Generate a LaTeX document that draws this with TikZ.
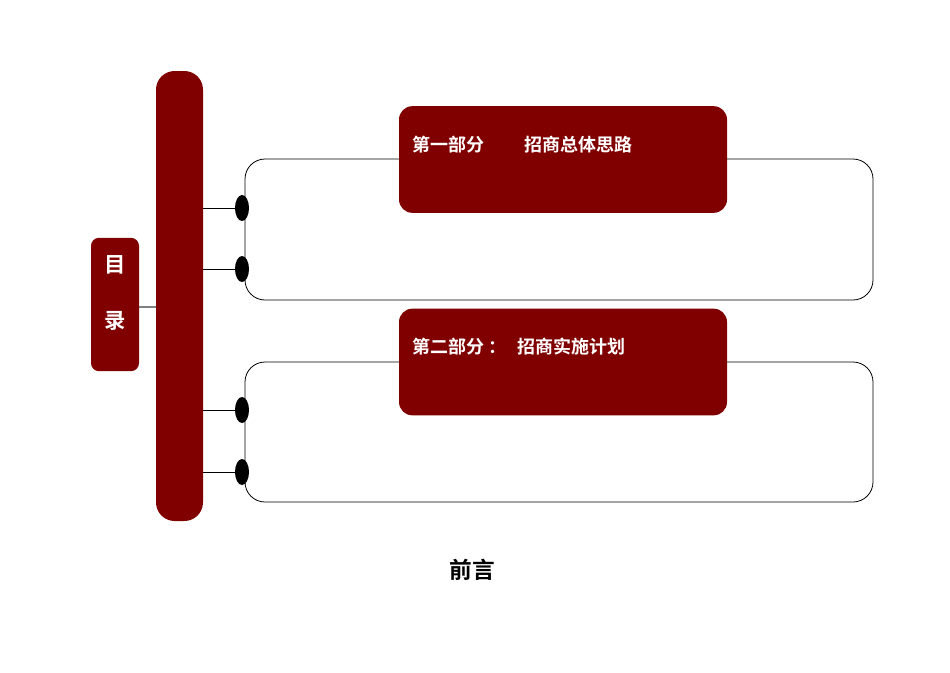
\documentclass[tikz,border=0pt]{standalone}
\usepackage{fontspec}
\usetikzlibrary{shapes.geometric}
\newfontfamily\cjk{Noto Sans CJK SC Bold}
\definecolor{dred}{HTML}{800000}
\begin{document}
\begin{tikzpicture}[x=0.75pt,y=-0.75pt,
  redbox/.style={fill=dred,draw=none},
  dot/.style={ellipse,fill=black,minimum width=10.5pt,minimum height=19.5pt,inner sep=0pt},
  title/.style={text=white,font=\cjk\fontsize{13.5pt}{16pt}\selectfont,anchor=west},
  frame/.style={draw=black,line width=0.6pt,rounded corners=15pt}]
\useasboundingbox (0,0) rectangle (950,672);
% tall bar
\fill[dred,rounded corners=14pt] (156,71) rectangle (203,521);
% mulu box
\node[redbox,rounded corners=6pt,minimum width=36pt,minimum height=100pt,inner sep=0pt] (mulu) at (115,304.5) {};
\node[text=white,font=\cjk\fontsize{16pt}{18pt}\selectfont] (mu) at (115,265) {目};
\node[text=white,font=\cjk\fontsize{16pt}{18pt}\selectfont] (lu) at (115,321) {录};
\coordinate (barL) at (156,307);
\draw[gray,line width=0.8pt] (mulu.east |- barL) -- (barL);
% group frames
\foreach \t/\b in {159/300, 362/502}{
  \draw[frame] (245,{(\t+\b)/2}) -- (245,\t) -- (873,\t) -- (873,\b) -- (245,\b) -- cycle;
}
% dots
\foreach \y/\n in {208/d1,269/d2,410/d3,472/d4}{
  \node[dot] (\n) at (242,\y) {};
  \draw[line width=0.6pt] (203,\y) -- (\n.west);
}
% red title boxes
\node[redbox,rounded corners=10pt,minimum width=246pt,minimum height=80pt,inner sep=0pt] (p1) at (563,159.5) {};
\node[redbox,rounded corners=10pt,minimum width=246pt,minimum height=80pt,inner sep=0pt] (p2) at (563,362) {};
\node[title] (t1) at (408,145) {第一部分\hspace{2.2em}招商总体思路};
\node[title] (t2) at (408,347) {第二部分 ：\hspace{0.6em}招商实施计划};
\node[font=\cjk\fontsize{17pt}{20pt}\selectfont] (qy) at (472,570) {前言};
\end{tikzpicture}
\end{document}
